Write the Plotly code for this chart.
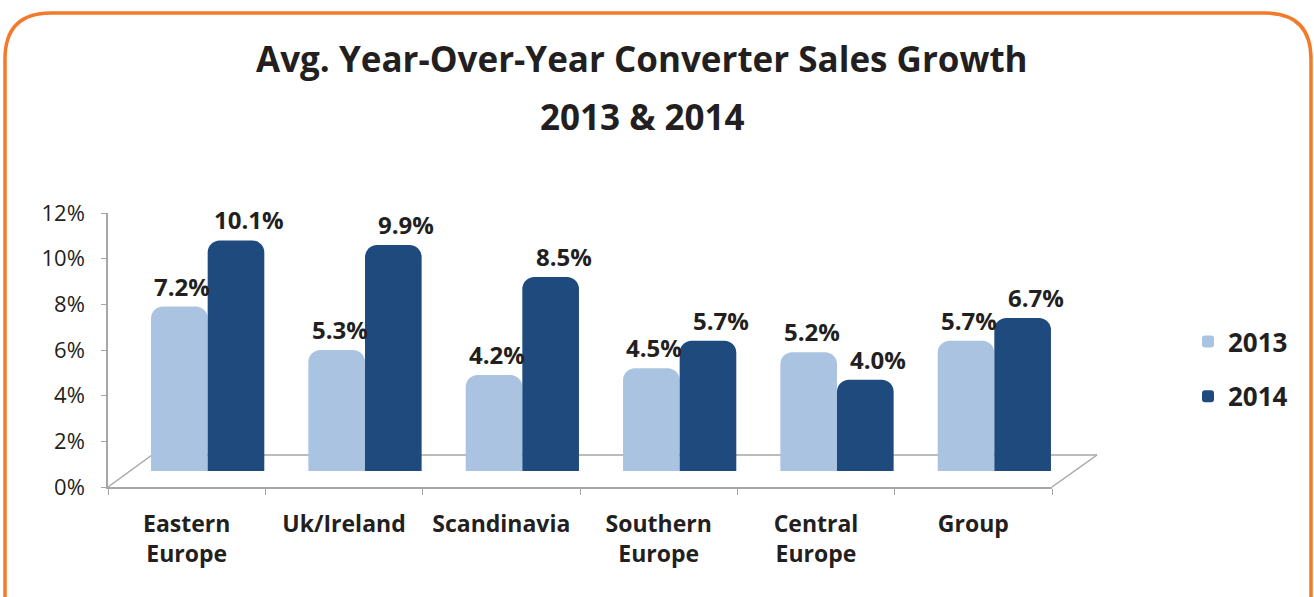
import plotly.graph_objects as go

# Regional average year-over-year converter sales growth (%)
regions = ["Eastern<br>Europe", "Uk/Ireland", "Scandinavia", "Southern<br>Europe", "Central<br>Europe", "Group"]
growth_2013 = [7.2, 5.3, 4.2, 4.5, 5.2, 5.7]
growth_2014 = [10.1, 9.9, 8.5, 5.7, 4.0, 6.7]
y_ticks = [0, 2, 4, 6, 8, 10, 12]
y_tick_labels = [f"{v}%" for v in y_ticks]

W, H = 1314, 597
FONT = "Open Sans"
INK = "#231F20"
GRID = "#A6A6A6"
LIGHT = "#A9C3E1"
DARK = "#1F4A7E"
ORANGE = "#F37A2B"
BAR_W = 0.36  # width of one bar, in category units


def px(x):
    return x / W


def py(y):
    return 1 - y / H


fig = go.Figure()

# bars live on their own (hidden) axes, nudged back into the floor's depth
for name, vals, color, offset, group in [
    ("2013", growth_2013, LIGHT, -BAR_W, "a"),
    ("2014", growth_2014, DARK, 0.0, "b"),
]:
    fig.add_trace(go.Bar(
        x=regions, y=vals, name=name, marker=dict(color=color, line=dict(width=0)),
        offset=offset, width=BAR_W, xaxis="x2", yaxis="y2", legendgroup=group,
    ))

# invisible carrier so the front axes show categories
fig.add_trace(go.Scatter(x=regions, y=[None] * len(regions), showlegend=False,
                         hoverinfo="skip"))

annotations = []
# value labels above each bar
for vals, centre, shift in [(growth_2013, -BAR_W / 2, 3), (growth_2014, BAR_W / 2, 13)]:
    for i, v in enumerate(vals):
        annotations.append(dict(
            x=i + centre, y=v, xref="x2", yref="y2", text=f"<b>{v:.1f}%</b>",
            showarrow=False, xanchor="center", yanchor="bottom",
            xshift=shift, yshift=2,
            font=dict(family=FONT, size=24, color=INK),
        ))

# two-line chart title
for text, yc in [("Avg. Year-Over-Year Converter Sales Growth", 59), ("2013 & 2014", 116)]:
    annotations.append(dict(
        x=px(642), y=py(yc), xref="paper", yref="paper", text=f"<b>{text}</b>",
        showarrow=False, xanchor="center", yanchor="middle",
        font=dict(family=FONT, size=35, color=INK),
    ))

front_x = [px(108), px(1052)]
front_y = [py(487), py(213)]
dx, dy = 21, 16

fig.update_layout(
    width=W, height=H,
    margin=dict(l=0, r=0, t=0, b=0),
    paper_bgcolor="white", plot_bgcolor="rgba(0,0,0,0)",
    barmode="overlay", barcornerradius=12,
    font=dict(family=FONT, color=INK),
    annotations=annotations,
    xaxis=dict(
        domain=front_x, range=[-0.5, 5.5], type="category",
        tickson="boundaries", ticks="outside", ticklen=6, tickcolor=GRID,
        showline=True, linecolor=GRID, linewidth=1.5, showgrid=False,
        tickfont=dict(family=FONT, size=23, color=INK, weight="bold"),
        ticklabelstandoff=16, automargin=False, zeroline=False,
    ),
    yaxis=dict(
        domain=front_y, range=[0, 12], tickvals=y_ticks, ticktext=y_tick_labels,
        ticks="outside", ticklen=5, tickcolor=GRID,
        showline=True, linecolor=GRID, linewidth=1.5, showgrid=False,
        zeroline=False, tickfont=dict(family=FONT, size=22, color=INK),
        ticklabelstandoff=12, automargin=False,
    ),
    xaxis2=dict(
        domain=[px(108 + dx), px(1052 + dx)], range=[-0.5, 5.5], type="category",
        anchor="y2", visible=False,
    ),
    yaxis2=dict(
        domain=[py(487 - dy), py(213 - dy)], range=[0, 12], anchor="x2",
        visible=False,
    ),
    legend=dict(
        x=px(1188), y=py(318), xanchor="left", yanchor="top",
        font=dict(family=FONT, size=26, color=INK, weight="bold"),
        tracegroupgap=18, bgcolor="rgba(0,0,0,0)",
    ),
    showlegend=True,
)

# floor of the chart: back edge and side edges
depth = 44
floor = [
    ((108, 487), (108 + depth, 455)),
    ((1052, 487), (1052 + depth + 1, 455)),
    ((108 + depth, 455), (1052 + depth + 1, 455)),
]
for (x0, y0), (x1, y1) in floor:
    fig.add_shape(type="line", xref="paper", yref="paper",
                  x0=px(x0), y0=py(y0), x1=px(x1), y1=py(y1),
                  line=dict(color=GRID, width=1.5), layer="below")

# rounded orange frame around the whole chart
L, R, T, B, r = 5, 1311, 13, 640, 46
path = (
    f"M {px(L)},{py(B)} L {px(L)},{py(T + r)} "
    f"Q {px(L)},{py(T)} {px(L + r)},{py(T)} "
    f"L {px(R - r)},{py(T)} "
    f"Q {px(R)},{py(T)} {px(R)},{py(T + r)} "
    f"L {px(R)},{py(B)}"
)
fig.add_shape(type="path", path=path, xref="paper", yref="paper",
              line=dict(color=ORANGE, width=3.5))

fig.write_html("out.html")
